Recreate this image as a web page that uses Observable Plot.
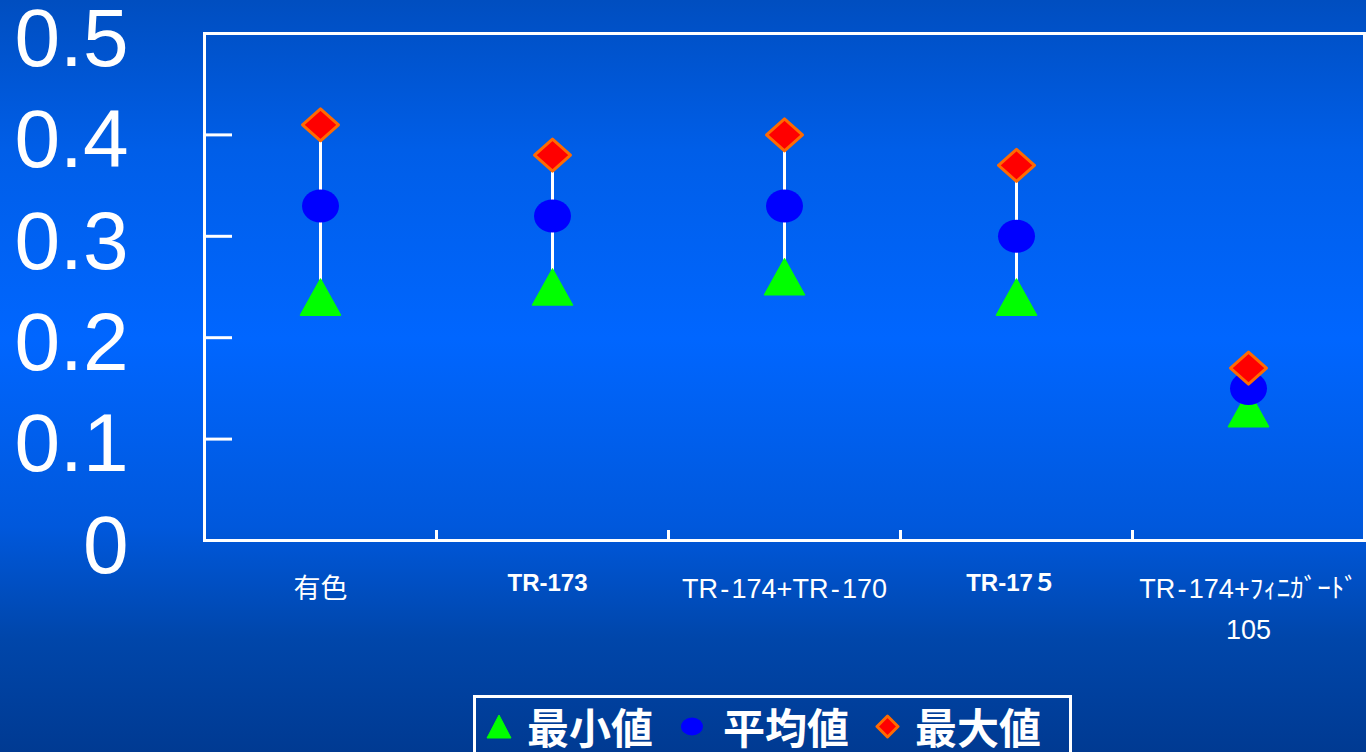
<!DOCTYPE html>
<html>
<head>
<meta charset="utf-8">
<script src="https://cdn.jsdelivr.net/npm/d3@7"></script>
<script src="https://cdn.jsdelivr.net/npm/@observablehq/plot@0.6"></script>
<style>
  html, body { margin: 0; padding: 0; }
  body {
    width: 1366px; height: 752px; overflow: hidden; position: relative;
    background: linear-gradient(to bottom, #004ec0 0%, #005ee8 20%, #0066ff 45%, #0058dc 70%, #0046aa 85%, #003a92 100%);
    font-family: "Liberation Sans", Arial, "Noto Sans CJK JP", sans-serif;
  }
  #chart svg { display: block; }
  #legend {
    position: absolute; left: 473px; top: 695px; width: 599px; height: 70px;
    border: 3px solid #ffffff; box-sizing: border-box;
    display: flex; align-items: center; color: #ffffff;
    font: bold 42px "Noto Sans CJK JP", sans-serif; line-height: 1;
    padding-bottom: 8px;
  }
  #legend svg { display: block; flex: none; }
  #legend span { white-space: nowrap; }
</style>
</head>
<body>
<div id="chart"></div>
<div id="legend"></div>
<script>
// ---- data ----
const categories = ["有色", "TR-173", "TR\u200A-\u200A174+TR\u200A-\u200A170", "TR-17５", "TR\u200A-\u200A174+ﾌｨﾆｶﾞｰﾄﾞ\n105"];
const minValues  = [0.24, 0.25, 0.26, 0.24, 0.13];
const meanValues = [0.33, 0.32, 0.33, 0.30, 0.15];
const maxValues  = [0.41, 0.38, 0.40, 0.37, 0.17];
const yTicks = [0, 0.1, 0.2, 0.3, 0.4, 0.5];
const seriesNames = ["最小値", "平均値", "最大値"];

const data = categories.map((c, i) => ({i, c, min: minValues[i], mean: meanValues[i], max: maxValues[i]}));
const boundaries = d3.range(1, categories.length);
const xPos = d => d.i + 0.5;

// custom marker shapes (slightly wider than tall, like the original)
const triangleSym = {draw(ctx) { ctx.moveTo(0, -18); ctx.lineTo(20, 18); ctx.lineTo(-20, 18); ctx.closePath(); }};
const ellipseSym = {draw(ctx) {
  const rx = 18.5, ry = 16.5, k = 0.5523;
  ctx.moveTo(rx, 0);
  ctx.bezierCurveTo(rx, ry * k, rx * k, ry, 0, ry);
  ctx.bezierCurveTo(-rx * k, ry, -rx, ry * k, -rx, 0);
  ctx.bezierCurveTo(-rx, -ry * k, -rx * k, -ry, 0, -ry);
  ctx.bezierCurveTo(rx * k, -ry, rx, -ry * k, rx, 0);
  ctx.closePath();
}};
const diamondSym = {draw(ctx) { ctx.moveTo(0, -16); ctx.lineTo(18, 0); ctx.lineTo(0, 16); ctx.lineTo(-18, 0); ctx.closePath(); }};

const boldIdx = [1, 3];

const chart = Plot.plot({
  width: 1366,
  height: 694,
  marginLeft: 204,
  marginRight: 2,
  marginTop: 33,
  marginBottom: 154,
  x: {domain: [0, categories.length], axis: null},
  y: {domain: [0, 0.5], axis: null},
  style: {background: "transparent", color: "white", fontFamily: "'Liberation Sans', Arial, 'Noto Sans CJK JP', sans-serif"},
  marks: [
    Plot.axisY(yTicks, {tickSize: 0, tickPadding: 76, fontSize: 82, dy: 6, tickFormat: d => d === 0 ? "0" : d.toFixed(1), label: null, fill: "white"}),
    Plot.ruleY(yTicks.slice(1, -1), {stroke: "white", strokeWidth: 3, insetRight: 1132}),
    Plot.ruleX(boundaries, {stroke: "white", strokeWidth: 3, insetTop: 497}),
    Plot.ruleX(data, {x: xPos, y1: "min", y2: "max", stroke: "white", strokeWidth: 3}),
    Plot.dot(data, {x: xPos, y: "min", symbol: triangleSym, r: 10, fill: "#00ff00", stroke: "#00ff00", strokeWidth: 1.5, strokeLinejoin: "round"}),
    Plot.dot(data, {x: xPos, y: "mean", symbol: ellipseSym, r: 10, fill: "#0000ff"}),
    Plot.dot(data, {x: xPos, y: "max", symbol: diamondSym, r: 10, fill: "#ff0000", stroke: "#ff6a00", strokeWidth: 3, strokeLinejoin: "round"}),
    Plot.frame({stroke: "white", strokeWidth: 3}),
    Plot.text(data, {filter: (d, i) => !boldIdx.includes(i), x: xPos, text: "c", frameAnchor: "bottom", lineAnchor: "top", dy: 28, fontSize: 27, lineHeight: 1.52, fill: "white"}),
    Plot.text(data, {filter: (d, i) => boldIdx.includes(i), x: xPos, text: "c", frameAnchor: "bottom", lineAnchor: "top", dy: 33, dx: -5, fontSize: 24, fontWeight: "bold", fill: "white"})
  ]
});
document.getElementById("chart").append(chart);

// ---- legend ----
const legendIcons = [
  `<svg width="26" height="25" style="margin-left:10px;margin-right:15px"><polygon points="13,1 25,24 1,24" fill="#00ff00" stroke="#00ff00" stroke-linejoin="round"/></svg>`,
  `<svg width="22" height="19" style="margin-left:28px;margin-right:20px"><ellipse cx="11" cy="9.5" rx="11" ry="9" fill="#0000ff"/></svg>`,
  `<svg width="25" height="25" style="margin-left:26px;margin-right:15px"><polygon points="12.5,2 23,12.5 12.5,23 2,12.5" fill="#ff0000" stroke="#ff6a00" stroke-width="3" stroke-linejoin="round"/></svg>`
];
document.getElementById("legend").innerHTML = seriesNames.map((n, i) => legendIcons[i] + `<span>${n}</span>`).join("");
</script>
</body>
</html>
